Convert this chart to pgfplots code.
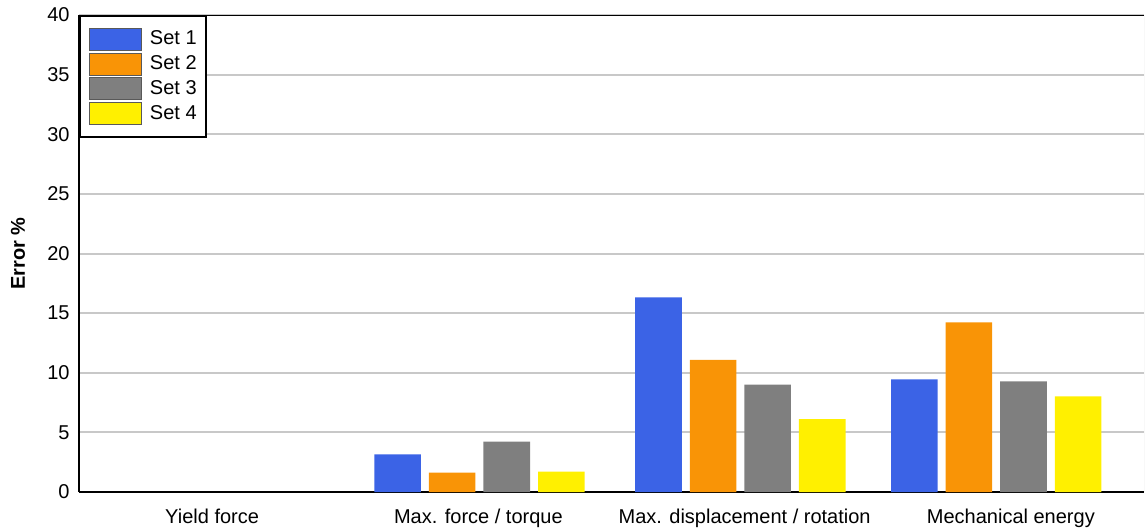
\documentclass[border=0pt]{standalone}
\usepackage{fontspec}
\setmainfont{Liberation Sans}
\usepackage{pgfplots}
\pgfplotsset{compat=1.18}

\definecolor{cset1}{RGB}{59,99,230}
\definecolor{cset2}{RGB}{249,148,6}
\definecolor{cset3}{RGB}{127,127,127}
\definecolor{cset4}{RGB}{255,240,0}
\definecolor{gridgray}{RGB}{200,200,200}

% 1 px of the reference = 0.5pt
\begin{document}
\begin{tikzpicture}
  \useasboundingbox (-39.5pt,-19pt) rectangle (533pt,246pt);
  \begin{axis}[
      scale only axis,
      width=532.5pt, height=238.5pt,
      at={(0,0)}, anchor=south west,
      font=\fontsize{10pt}{12pt}\selectfont,
      /pgf/number format/assume math mode=true,
      xmin=0, xmax=4,
      ymin=0, ymax=40,
      xtick={0.5,1.5,2.5,3.5},
      xticklabels={Yield force, Max. force / torque, Max. displacement / rotation, Mechanical energy},
      ytick={0,5,...,40},
      major tick length=0pt,
      axis lines*=left,
      axis line style={line width=1pt, black, -},
      ymajorgrids,
      grid style={gridgray, line width=1pt},
      xticklabel style={yshift=-5pt},
      yticklabel style={xshift=-1.2pt},
      ylabel={\bfseries Error \%},
      ylabel style={at={(axis description cs:-0.0573,0.5)}, anchor=center, rotate=0},
      ybar,
      bar width=0.175,
      legend style={at={(0,1)}, anchor=north west, draw=black, line width=1pt,
        inner xsep=4.5pt, inner ysep=6pt,
        nodes={inner sep=0pt},
        row sep=0.85pt,
        font=\fontsize{10pt}{12pt}\selectfont},
      legend cell align=left,
      /tikz/every odd column/.append style={column sep=4pt},
      legend image code/.code={%
        \draw[#1, draw=black!65, line width=0.5pt] (0pt,-5.5pt) rectangle (26pt,5.5pt);},
    ]
    % Yield force: all four sets are 0
    \addplot[fill=cset1, draw=none, bar shift=-0.3075] coordinates {
      (1.504,3.16) (2.484,16.33) (3.445,9.45)};
    \addplot[fill=cset2, draw=none, bar shift=-0.1025] coordinates {
      (1.504,1.62) (2.484,11.07) (3.445,14.23)};
    \addplot[fill=cset3, draw=none, bar shift=0.1025] coordinates {
      (1.504,4.22) (2.484,9.00) (3.445,9.28)};
    \addplot[fill=cset4, draw=none, bar shift=0.3075] coordinates {
      (1.504,1.70) (2.484,6.12) (3.445,8.02)};
    \legend{Set 1, Set 2, Set 3, Set 4}
    \draw[black, line width=1pt] (rel axis cs:0,1) -- (rel axis cs:1,1);
    \draw[gridgray, line width=0.5pt] (rel axis cs:1,0) -- (rel axis cs:1,1);
  \end{axis}
\end{tikzpicture}
\end{document}
